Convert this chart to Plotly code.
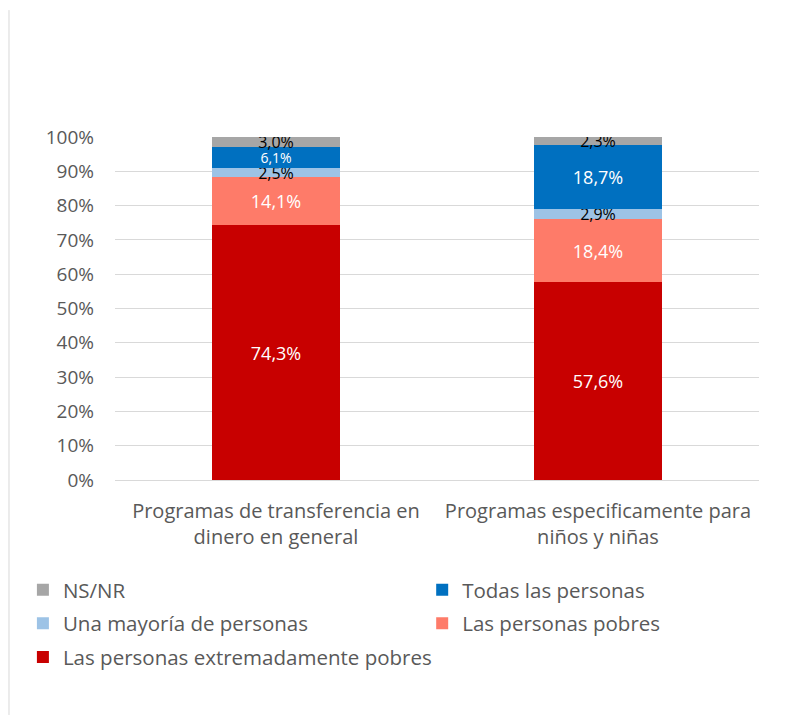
import plotly.graph_objects as go

categories = ["Programas de transferencia en<br>dinero en general",
              "Programas especificamente para<br>niños y niñas"]
series_names = ["Las personas extremadamente pobres", "Las personas pobres",
                "Una mayoría de personas", "Todas las personas", "NS/NR"]
extrema = [74.3, 57.6]
pobres = [14.1, 18.4]
mayoria = [2.5, 2.9]
todas = [6.1, 18.7]
nsnr = [3.0, 2.3]
tick_vals = [0, 10, 20, 30, 40, 50, 60, 70, 80, 90, 100]
tick_text = [f"{v}%" for v in tick_vals]

series = [extrema, pobres, mayoria, todas, nsnr]
colors = ["#c80000", "#fe7b69", "#9dc3e6", "#0070c0", "#a6a6a6"]
text_colors = [["white", "white"], ["white", "white"], ["black", "black"],
               ["white", "white"], ["black", "black"]]
text_sizes = [[18, 18], [18, 18], [16, 16], [14, 18], [16, 16]]
legend_ids = ["legend", "legend2", "legend", "legend2", "legend"]
legend_ranks = [3, 2, 2, 1, 1]

FONT = "Open Sans"
fig = go.Figure()
for name, vals, col, tc, ts, lg, rk in zip(series_names, series, colors, text_colors,
                                           text_sizes, legend_ids, legend_ranks):
    fig.add_trace(go.Bar(
        x=categories, y=vals, name=name, marker_color=col,
        marker_line_width=0,
        text=[f"{v:.1f}%".replace(".", ",") for v in vals],
        textposition="inside", insidetextanchor="middle",
        textfont=dict(color=tc, size=ts, family=FONT),
        constraintext="none",
        width=0.4, legend=lg, legendgroup=name, legendrank=rk,
    ))

legend_common = dict(orientation="v", traceorder="grouped",
                     xanchor="left", yanchor="top", tracegroupgap=4,
                     font=dict(size=20.5, color="#595959", family=FONT),
                     bgcolor="rgba(0,0,0,0)")

fig.update_layout(
    barmode="stack",
    width=809, height=726,
    margin=dict(l=107, r=58, t=129, b=254),
    paper_bgcolor="white", plot_bgcolor="white",
    font=dict(family=FONT, color="#595959", size=19),
    showlegend=True,
    legend=dict(x=-0.143, y=-0.262, **legend_common),
    legend2=dict(x=0.477, y=-0.262, **legend_common),
    xaxis=dict(tickfont=dict(size=20, color="#595959"), showline=True,
               linecolor="#d9d9d9", linewidth=1, ticks="", ticklabelstandoff=13),
    yaxis=dict(range=[0, 100], tickvals=tick_vals, ticktext=tick_text,
               gridcolor="#d9d9d9", gridwidth=1, zeroline=False,
               tickfont=dict(size=19, color="#595959"), ticks="", ticklabelstandoff=20),
    shapes=[dict(type="line", xref="paper", yref="paper", x0=-0.1646, x1=-0.1646,
                 y0=-0.685, y1=1.37, line=dict(color="#d9d9d9", width=1))],
)
fig.write_html("out.html")
